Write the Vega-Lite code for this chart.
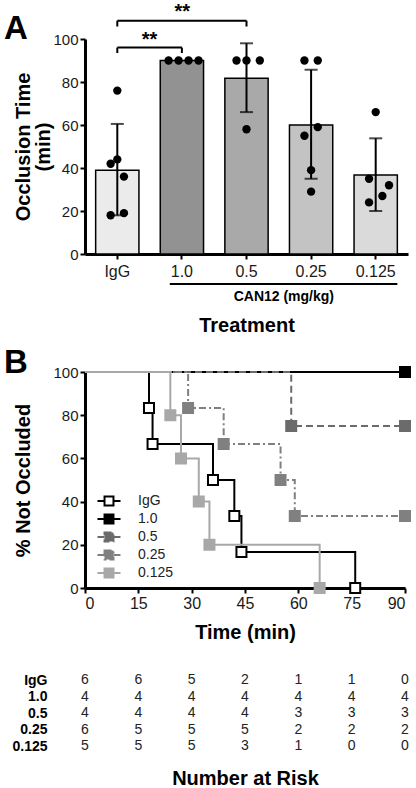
{
  "$schema": "https://vega.github.io/schema/vega-lite/v6.json",
  "padding": {"left": 3, "top": 1, "right": 4, "bottom": 0},
  "spacing": 118,
  "bounds": "flush",
  "resolve": {"scale": {"fill": "independent", "stroke": "independent", "strokeDash": "independent", "color": "independent"}, "legend": {"fill": "independent", "stroke": "independent", "strokeDash": "independent"}},
  "datasets": {
    "bars": [
      {"grp": "IgG", "mean": 39, "lo": 18, "hi": 60.5},
      {"grp": "1.0", "mean": 90},
      {"grp": "0.5", "mean": 81.7, "lo": 66, "hi": 98},
      {"grp": "0.25", "mean": 60, "lo": 35, "hi": 85.7},
      {"grp": "0.125", "mean": 36.8, "lo": 20, "hi": 53.8}
    ],
    "dots": [
      {"grp": "IgG", "v": 76, "col": "7"}, {"grp": "IgG", "v": 44, "col": "7"}, {"grp": "IgG", "v": 42, "col": "5"},
      {"grp": "IgG", "v": 36, "col": "9"}, {"grp": "IgG", "v": 19, "col": "9"}, {"grp": "IgG", "v": 18, "col": "5"},
      {"grp": "1.0", "v": 90, "col": "3"}, {"grp": "1.0", "v": 90, "col": "6"}, {"grp": "1.0", "v": 90, "col": "9"}, {"grp": "1.0", "v": 90, "col": "12"},
      {"grp": "0.5", "v": 90, "col": "4"}, {"grp": "0.5", "v": 90, "col": "7"}, {"grp": "0.5", "v": 90, "col": "11"}, {"grp": "0.5", "v": 58, "col": "7"},
      {"grp": "0.25", "v": 90, "col": "5"}, {"grp": "0.25", "v": 90, "col": "9"}, {"grp": "0.25", "v": 59, "col": "9"},
      {"grp": "0.25", "v": 55, "col": "5"}, {"grp": "0.25", "v": 39, "col": "7"}, {"grp": "0.25", "v": 29, "col": "7"},
      {"grp": "0.125", "v": 66, "col": "7"}, {"grp": "0.125", "v": 35, "col": "5"}, {"grp": "0.125", "v": 32, "col": "11"},
      {"grp": "0.125", "v": 27, "col": "9"}, {"grp": "0.125", "v": 24, "col": "5"}
    ],
    "brackets": [
      {"grp": "IgG", "to": "1.0", "top": 96, "leg": 93.5, "star": 96.8, "n": 1},
      {"grp": "IgG", "to": "0.5", "top": 108.5, "leg": 105.8, "star": 109.8, "n": 2}
    ],
    "ann": [
      {"grp": "1.0", "to": "0.125", "tg": "0.25", "txt": "CAN12 (mg/kg)", "ly": -14, "ty": -20}
    ],
    "km": [
      {"grp": "IgG", "t": 0, "s": 100, "m": 0}, {"grp": "IgG", "t": 18, "s": 83.33, "m": 1}, {"grp": "IgG", "t": 19, "s": 66.67, "m": 1},
      {"grp": "IgG", "t": 36, "s": 50, "m": 1}, {"grp": "IgG", "t": 42, "s": 33.33, "m": 1}, {"grp": "IgG", "t": 44, "s": 16.67, "m": 1},
      {"grp": "IgG", "t": 76, "s": 0, "m": 1},
      {"grp": "1.0", "t": 0, "s": 100, "m": 0}, {"grp": "1.0", "t": 90, "s": 100, "m": 1},
      {"grp": "0.5", "t": 0, "s": 100, "m": 0}, {"grp": "0.5", "t": 58, "s": 75, "m": 1}, {"grp": "0.5", "t": 90, "s": 75, "m": 1},
      {"grp": "0.25", "t": 0, "s": 100, "m": 0}, {"grp": "0.25", "t": 29, "s": 83.33, "m": 1}, {"grp": "0.25", "t": 39, "s": 66.67, "m": 1},
      {"grp": "0.25", "t": 55, "s": 50, "m": 1}, {"grp": "0.25", "t": 59, "s": 33.33, "m": 1}, {"grp": "0.25", "t": 90, "s": 33.33, "m": 1},
      {"grp": "0.125", "t": 0, "s": 100, "m": 0}, {"grp": "0.125", "t": 24, "s": 80, "m": 1}, {"grp": "0.125", "t": 27, "s": 60, "m": 1},
      {"grp": "0.125", "t": 32, "s": 40, "m": 1}, {"grp": "0.125", "t": 35, "s": 20, "m": 1}, {"grp": "0.125", "t": 66, "s": 0, "m": 1}
    ],
    "risk": [
      {"grp": "IgG", "t": 0, "n": 6}, {"grp": "IgG", "t": 15, "n": 6}, {"grp": "IgG", "t": 30, "n": 5}, {"grp": "IgG", "t": 45, "n": 2}, {"grp": "IgG", "t": 60, "n": 1}, {"grp": "IgG", "t": 75, "n": 1}, {"grp": "IgG", "t": 90, "n": 0},
      {"grp": "1.0", "t": 0, "n": 4}, {"grp": "1.0", "t": 15, "n": 4}, {"grp": "1.0", "t": 30, "n": 4}, {"grp": "1.0", "t": 45, "n": 4}, {"grp": "1.0", "t": 60, "n": 4}, {"grp": "1.0", "t": 75, "n": 4}, {"grp": "1.0", "t": 90, "n": 4},
      {"grp": "0.5", "t": 0, "n": 4}, {"grp": "0.5", "t": 15, "n": 4}, {"grp": "0.5", "t": 30, "n": 4}, {"grp": "0.5", "t": 45, "n": 4}, {"grp": "0.5", "t": 60, "n": 3}, {"grp": "0.5", "t": 75, "n": 3}, {"grp": "0.5", "t": 90, "n": 3},
      {"grp": "0.25", "t": 0, "n": 6}, {"grp": "0.25", "t": 15, "n": 5}, {"grp": "0.25", "t": 30, "n": 5}, {"grp": "0.25", "t": 45, "n": 5}, {"grp": "0.25", "t": 60, "n": 2}, {"grp": "0.25", "t": 75, "n": 2}, {"grp": "0.25", "t": 90, "n": 2},
      {"grp": "0.125", "t": 0, "n": 5}, {"grp": "0.125", "t": 15, "n": 5}, {"grp": "0.125", "t": 30, "n": 5}, {"grp": "0.125", "t": 45, "n": 3}, {"grp": "0.125", "t": 60, "n": 1}, {"grp": "0.125", "t": 75, "n": 0}, {"grp": "0.125", "t": 90, "n": 0}
    ]
  },
  "vconcat": [
    {
      "width": 323,
      "height": 215,
      "title": {"text": "A", "dx": -10, "offset": -44},
      "resolve": {"scale": {"xOffset": "independent"}},
      "layer": [
        {
          "data": {"name": "bars"},
          "mark": {"type": "bar", "stroke": "#000", "strokeWidth": 1.5},
          "encoding": {
            "x": {"field": "grp", "type": "nominal",
                  "scale": {"type": "band", "domain": ["IgG", "1.0", "0.5", "0.25", "0.125"], "paddingInner": 0.33, "paddingOuter": 0.165},
                  "axis": {"title": "Treatment", "labelAngle": 0, "labelFontSize": 16, "labelPadding": 4, "titlePadding": 36}},
            "y": {"field": "mean", "type": "quantitative",
                  "scale": {"domain": [0, 100], "nice": false},
                  "axis": {"values": [0, 20, 40, 60, 80, 100], "title": ["Occlusion Time", "(min)"], "titleLineHeight": 20, "titlePadding": -1}},
            "fill": {"field": "grp", "type": "nominal", "legend": null,
                     "scale": {"domain": ["IgG", "1.0", "0.5", "0.25", "0.125"], "range": ["#ebebeb", "#929292", "#a9a9a9", "#c3c3c3", "#dadada"]}}
          }
        },
        {
          "data": {"name": "bars"},
          "mark": {"type": "rule", "color": "#000", "strokeWidth": 2},
          "encoding": {
            "x": {"field": "grp", "type": "nominal"},
            "y": {"field": "lo", "type": "quantitative"},
            "y2": {"field": "hi"}
          }
        },
        {
          "data": {"name": "bars"},
          "mark": {"type": "tick", "color": "#000", "thickness": 2, "size": 13},
          "encoding": {
            "x": {"field": "grp", "type": "nominal"},
            "y": {"field": "lo", "type": "quantitative"}
          }
        },
        {
          "data": {"name": "bars"},
          "mark": {"type": "tick", "color": "#000", "thickness": 2, "size": 13},
          "encoding": {
            "x": {"field": "grp", "type": "nominal"},
            "y": {"field": "hi", "type": "quantitative"}
          }
        },
        {
          "data": {"name": "dots"},
          "mark": {"type": "circle", "color": "#000", "size": 70, "opacity": 1},
          "encoding": {
            "x": {"field": "grp", "type": "nominal"},
            "xOffset": {"field": "col", "type": "nominal", "scale": {"domain": ["1","2","3","4","5","6","7","8","9","10","11","12","13"]}},
            "y": {"field": "v", "type": "quantitative"}
          }
        },
        {
          "data": {"name": "brackets"},
          "mark": {"type": "rule", "color": "#000", "strokeWidth": 2},
          "encoding": {
            "x": {"field": "grp", "type": "nominal"},
            "x2": {"field": "to"},
            "y": {"field": "top", "type": "quantitative"}
          }
        },
        {
          "data": {"name": "brackets"},
          "mark": {"type": "rule", "color": "#000", "strokeWidth": 2},
          "encoding": {
            "x": {"field": "grp", "type": "nominal"},
            "y": {"field": "top", "type": "quantitative"},
            "y2": {"field": "leg"}
          }
        },
        {
          "data": {"name": "brackets"},
          "mark": {"type": "rule", "color": "#000", "strokeWidth": 2},
          "encoding": {
            "x": {"field": "to", "type": "nominal"},
            "y": {"field": "top", "type": "quantitative"},
            "y2": {"field": "leg"}
          }
        },
        {
          "data": {"name": "brackets"},
          "transform": [{"filter": "datum.n == 1"}],
          "mark": {"type": "text", "text": "**", "fontSize": 20, "fontWeight": "bold", "baseline": "alphabetic", "align": "center"},
          "encoding": {
            "x": {"field": "grp", "type": "nominal", "bandPosition": 1.245},
            "y": {"field": "star", "type": "quantitative"}
          }
        },
        {
          "data": {"name": "brackets"},
          "transform": [{"filter": "datum.n == 2"}],
          "mark": {"type": "text", "text": "**", "fontSize": 20, "fontWeight": "bold", "baseline": "alphabetic", "align": "center"},
          "encoding": {
            "x": {"field": "grp", "type": "nominal", "bandPosition": 2.0},
            "y": {"field": "star", "type": "quantitative"}
          }
        },
        {
          "data": {"name": "ann"},
          "mark": {"type": "rule", "color": "#000", "strokeWidth": 2},
          "encoding": {
            "x": {"field": "grp", "type": "nominal", "bandPosition": 0.22},
            "x2": {"field": "to", "bandPosition": 1},
            "y": {"field": "ly", "type": "quantitative"}
          }
        },
        {
          "data": {"name": "ann"},
          "mark": {"type": "text", "fontSize": 14, "fontWeight": "bold", "baseline": "middle", "align": "center", "color": "#000"},
          "encoding": {
            "x": {"field": "tg", "type": "nominal", "bandPosition": -0.13},
            "y": {"field": "ty", "type": "quantitative"},
            "text": {"field": "txt"}
          }
        }
      ]
    },
    {
      "width": 320,
      "height": 216,
      "title": {"text": "B", "dx": -10, "offset": -17},
      "data": {"name": "km"},
      "encoding": {
        "x": {"field": "t", "type": "quantitative",
              "scale": {"domain": [0, 90], "nice": false},
              "axis": {"values": [0, 15, 30, 45, 60, 75, 90], "title": "Time (min)", "labelFontSize": 16, "titlePadding": 11}},
        "y": {"field": "s", "type": "quantitative",
              "scale": {"domain": [0, 100], "nice": false},
              "axis": {"values": [0, 20, 40, 60, 80, 100], "title": "% Not Occluded", "titlePadding": 19}}
      },
      "layer": [
        {
          "mark": {"type": "line", "interpolate": "step-after", "strokeWidth": 2},
          "encoding": {
            "stroke": {"field": "grp", "type": "nominal",
                       "scale": {"domain": ["IgG", "1.0", "0.5", "0.25", "0.125"], "range": ["#000000", "#000000", "#6b6b6b", "#808080", "#a8a8a8"]},
                       "legend": {"title": null, "orient": "none", "legendX": 15, "legendY": 120, "padding": 0,
                                  "symbolType": "M-1.44,0H-0.56M0.56,0H1.44M-0.56,-0.56H0.56V0.56H-0.56Z",
                                  "symbolSize": 256, "symbolStrokeWidth": 2, "labelFontSize": 14, "labelOffset": 20,
                                  "rowPadding": 0, "labelColor": "#222"}},
            "strokeDash": {"field": "grp", "type": "nominal",
                           "scale": {"domain": ["IgG", "1.0", "0.5", "0.25", "0.125"], "range": [[1, 0], [1, 0], [7, 4], [7, 3, 2, 3], [1, 0]]},
                           "legend": {"title": null, "orient": "none", "legendX": 15, "legendY": 120, "padding": 0,
                                  "symbolType": "M-1.44,0H-0.56M0.56,0H1.44M-0.56,-0.56H0.56V0.56H-0.56Z",
                                  "symbolSize": 256, "symbolStrokeWidth": 2, "labelFontSize": 14, "labelOffset": 20,
                                  "rowPadding": 0, "labelColor": "#222"}}
          }
        },
        {
          "transform": [{"filter": "datum.m == 1"}],
          "mark": {"type": "point", "shape": "square", "size": 100, "strokeWidth": 2, "opacity": 1, "filled": true},
          "encoding": {
            "stroke": {"field": "grp", "type": "nominal"},
            "fill": {"field": "grp", "type": "nominal",
                     "scale": {"domain": ["IgG", "1.0", "0.5", "0.25", "0.125"], "range": ["#ffffff", "#000000", "#6b6b6b", "#808080", "#a8a8a8"]},
                     "legend": {"title": null, "orient": "none", "legendX": 15, "legendY": 120, "padding": 0,
                                  "symbolType": "M-1.44,0H-0.56M0.56,0H1.44M-0.56,-0.56H0.56V0.56H-0.56Z",
                                  "symbolSize": 256, "symbolStrokeWidth": 2, "labelFontSize": 14, "labelOffset": 20,
                                  "rowPadding": 0, "labelColor": "#222"}}
          }
        }
      ]
    },
    {
      "width": 320,
      "height": 60,
      "data": {"name": "risk"},
      "mark": {"type": "text", "fontSize": 14, "color": "#222"},
      "encoding": {
        "x": {"field": "t", "type": "quantitative",
              "scale": {"domain": [0, 90], "nice": false},
              "axis": {"title": "Number at Risk", "labels": false, "ticks": false, "domain": false, "titlePadding": 2}},
        "y": {"field": "grp", "type": "nominal",
              "scale": {"type": "point", "domain": ["IgG", "1.0", "0.5", "0.25", "0.125"], "padding": 0, "range": [-26, 40]},
              "axis": {"title": null, "domain": false, "ticks": false, "tickSize": 0, "labelFontWeight": "bold", "labelFontSize": 14, "labelPadding": 38, "labelColor": "#000"}},
        "text": {"field": "n", "type": "quantitative"}
      }
    }
  ],
  "config": {
    "font": "Liberation Sans",
    "view": {"stroke": null},
    "axis": {"grid": false, "domainColor": "#000", "domainWidth": 3, "tickColor": "#000", "tickWidth": 2, "tickSize": 5,
             "labelColor": "#1a1a1a", "labelFontSize": 15, "labelFont": "Liberation Sans", "labelPadding": 2,
             "titleFont": "Liberation Sans", "titleFontSize": 20, "titleFontWeight": "bold", "titleColor": "#000"},
    "legend": {"labelFont": "Liberation Sans"},
    "title": {"fontSize": 33, "fontWeight": "bold", "anchor": "start", "frame": "bounds", "color": "#000", "font": "Liberation Sans"}
  }
}
